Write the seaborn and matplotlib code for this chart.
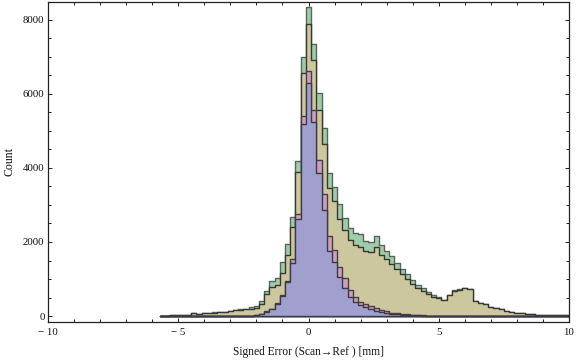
import numpy as np
import pandas as pd
import matplotlib
matplotlib.use("Agg")
import matplotlib.pyplot as plt
import seaborn as sns
from matplotlib.ticker import MultipleLocator

# Bin edges (width 0.2, centred on multiples of 0.2)
bin_edges = [round(-5.7 + 0.2 * i, 2) for i in range(80)]
bin_centers = [round((a + b) / 2, 2) for a, b in zip(bin_edges[:-1], bin_edges[1:])]

# Counts per bin (bins -5.6 ... 10.0)
green_counts = [4, 10, 15, 22, 30, 40, 72, 55, 80, 70, 95, 105, 117, 140, 160, 180, 198, 234,
                279, 405, 676, 955, 1018, 1450, 1946, 2684, 4197, 6992, 8343, 7343, 6035, 5081,
                3857, 3478, 3018, 2640, 2387, 2234, 2207, 2027, 1991, 2153, 1910, 1757, 1630,
                1424, 1262, 1127, 965, 846, 749, 657, 568, 505, 440, 580, 690, 720, 765, 740,
                405, 360, 315, 252, 225, 189, 144, 117, 90, 72, 45, 45, 20, 18, 18, 18, 18, 18, 18]
khaki_counts = [4, 9, 14, 20, 28, 38, 70, 53, 78, 68, 90, 100, 112, 135, 150, 162, 180, 198,
                225, 324, 586, 793, 837, 1153, 1640, 2397, 3884, 6576, 7892, 6919, 5568, 4649,
                3468, 3108, 2622, 2324, 2054, 1919, 1873, 1757, 1721, 1873, 1649, 1541, 1397,
                1262, 1127, 1000, 857, 757, 676, 595, 520, 495, 432, 568, 676, 703, 748, 721,
                405, 360, 315, 252, 225, 189, 144, 117, 90, 72, 45, 45, 18, 18, 18, 18, 18, 18, 18]
pink_counts = [0, 0, 0, 0, 0, 0, 0, 0, 0, 0, 0, 0, 0, 0, 0, 0, 0, 5,
               25, 60, 125, 200, 340, 570, 946, 1532, 2748, 5405, 6630, 5568, 4216, 3289,
               2162, 1784, 1332, 1036, 703, 505, 387, 324, 270, 225, 162, 127, 89,
               72, 54, 45, 40, 30, 20, 10, 5, 0, 0, 0, 0, 0, 0, 0,
               0, 0, 0, 0, 0, 0, 0, 0, 0, 0, 0, 0, 0, 0, 0, 0, 0, 0, 0]
blue_counts = [0, 0, 0, 0, 0, 0, 0, 0, 0, 0, 0, 0, 0, 0, 0, 0, 0, 3,
               20, 55, 117, 190, 324, 546, 910, 1441, 2613, 5189, 6305, 5252, 3857, 2865,
               1765, 1468, 1063, 749, 505, 387, 297, 252, 189, 143, 108, 89, 63,
               45, 36, 30, 25, 15, 10, 5, 0, 0, 0, 0, 0, 0, 0, 0,
               0, 0, 0, 0, 0, 0, 0, 0, 0, 0, 0, 0, 0, 0, 0, 0, 0, 0, 0]

x_ticks = [-10, -5, 0, 5, 10]
x_tick_labels = ["\u2212 10", "\u2212 5", "0", "5", "10"]
y_ticks = [0, 2000, 4000, 6000, 8000]
y_tick_labels = ["0", "2000", "4000", "6000", "8000"]

series = [
    ("green", green_counts, "#a0cca9", "#56665a"),
    ("khaki", khaki_counts, "#cdc79f", "#38382f"),
    ("pink", pink_counts, "#caa0ba", "#4a3d45"),
    ("blue", blue_counts, "#a19fcd", "#3a3a48"),
]

sns.set_theme(style="ticks")
plt.rcParams["font.family"] = ["Liberation Serif", "DejaVu Serif"]
plt.rcParams["axes.linewidth"] = 0.9

fig = plt.figure(figsize=(5.76, 3.62), dpi=100)
ax = fig.add_axes([48 / 576, 1 - 322 / 362, (569 - 48) / 576, (322 - 2) / 362])

for name, counts, face, edge in series:
    df = pd.DataFrame({"x": bin_centers, "w": counts})
    sns.histplot(data=df, x="x", weights="w", bins=list(bin_edges), element="step", fill=True,
                 facecolor=face, edgecolor=edge, alpha=1, linewidth=1.0, ax=ax)

ax.set_xlim(-10, 10)
ax.set_ylim(-162, 8486)
ax.set_xticks(x_ticks)
ax.set_xticklabels(x_tick_labels)
ax.set_yticks(y_ticks)
ax.set_yticklabels(y_tick_labels)
ax.xaxis.set_minor_locator(MultipleLocator(1))
ax.yaxis.set_minor_locator(MultipleLocator(500))
ax.tick_params(which="both", direction="in", top=True, right=True, colors="#222222",
               labelcolor="#111111", labelsize=7.8, width=0.7)
ax.tick_params(axis="x", which="both", pad=4.5)
ax.tick_params(axis="y", which="both", pad=2.5)
ax.tick_params(which="major", length=3.2)
ax.tick_params(which="minor", length=1.9)
for s in ax.spines.values():
    s.set_visible(True)
    s.set_color("#222222")

ax.set_xlabel("Signed Error (Scan\u2192Ref ) [mm]", fontsize=8.3, color="#111111")
ax.xaxis.set_label_coords(0.5, -0.074)
ax.set_ylabel("Count", fontsize=8.5, color="#111111")
ax.yaxis.set_label_coords(-0.062, 0.5)

fig.savefig("out.png", dpi=100)
